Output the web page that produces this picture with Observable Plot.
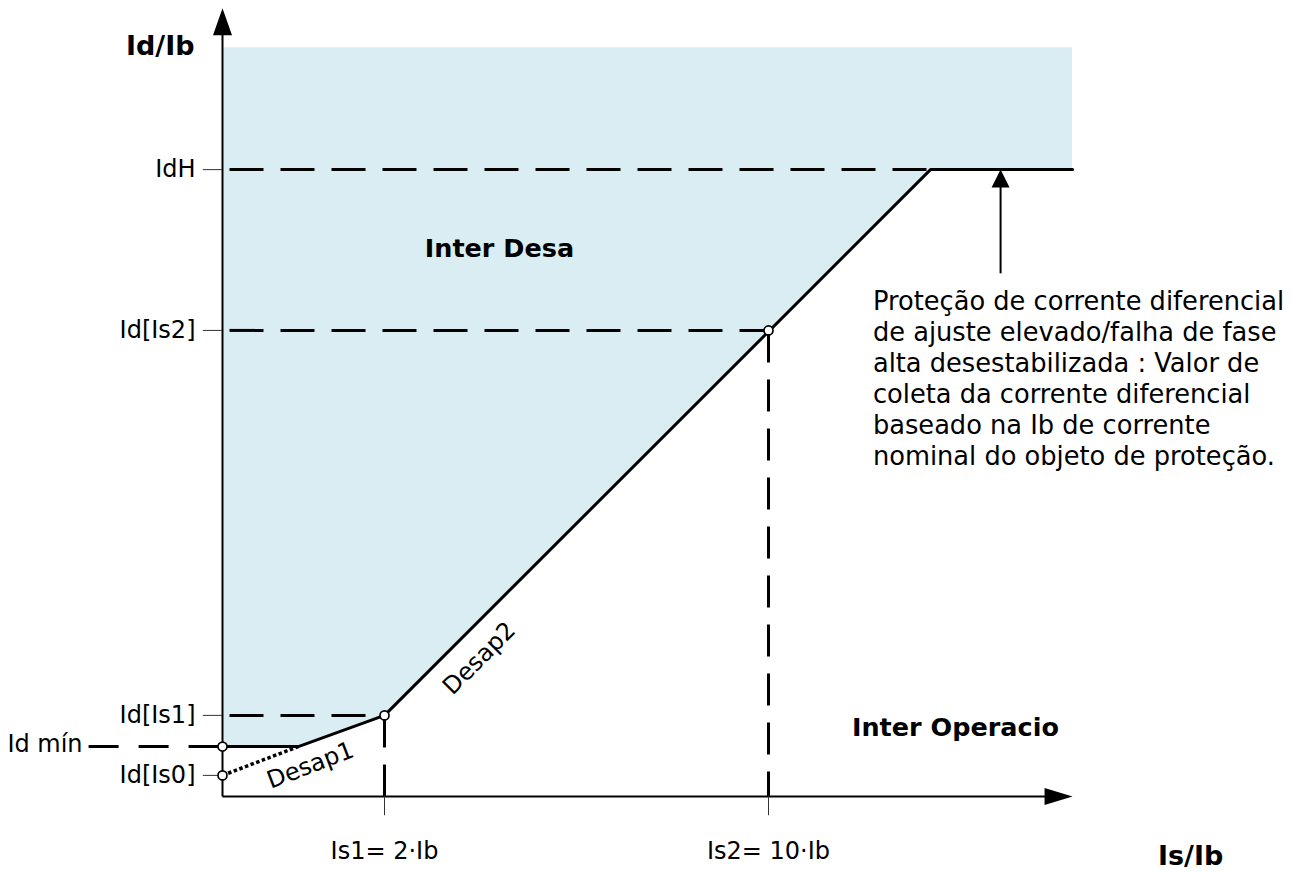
<!DOCTYPE html>
<html>
<head>
<meta charset="utf-8">
<script src="https://cdn.jsdelivr.net/npm/d3@7"></script>
<script src="https://cdn.jsdelivr.net/npm/@observablehq/plot@0.6"></script>
<style>
  html, body { margin: 0; padding: 0; background: #fff; }
</style>
</head>
<body>
<div id="chart"></div>
<script>
// ---- schematic values (units: 1 = one Ib step on the drawing) ----
const levelLabels = ["Id[Is0]", "Id mín", "Id[Is1]", "Id[Is2]", "IdH"];
const levelValues = [0.44, 1.04, 1.69, 9.71, 13.06];
const currentLabels = ["Is1= 2·Ib", "Is2= 10·Ib"];
const currentValues = [3.375, 11.375];
// operating characteristic (Id mín -> Desap1 -> Desap2 -> IdH)
const curveX = [0, 1.58, 3.375, 14.75, 17.71];
const curveY = [1.04, 1.04, 1.69, 13.06, 13.06];
const regionTop = 15.6;
const axisXEnd = 17.71;
const axisYEnd = 16.42;
const idMinStart = -2.79;
const annotationX = 16.21;
const annotationBottom = 10.9;
const annotationText = "Proteção de corrente diferencial\nde ajuste elevado/falha de fase\nalta desestabilizada : Valor de\ncoleta da corrente diferencial\nbaseado na Ib de corrente\nnominal do objeto de proteção.";

// ---- derived tables ----
const lv = Object.fromEntries(levelLabels.map((l, i) => [l, levelValues[i]]));
const curve = curveX.map((x, i) => ({x, y: curveY[i]}));
const yTicks = levelLabels.filter(l => l !== "Id mín").map(l => ({label: l, y: lv[l]}));
const xTicks = currentLabels.map((l, i) => ({label: l, x: currentValues[i]}));
const hGuides = [
  {x1: 0, y1: lv["IdH"], x2: curveX[3], y2: lv["IdH"]},
  {x1: 0, y1: lv["Id[Is2]"], x2: currentValues[1], y2: lv["Id[Is2]"]},
  {x1: 0, y1: lv["Id[Is1]"], x2: currentValues[0], y2: lv["Id[Is1]"]}
];
const vGuides = [
  {x1: currentValues[0], y1: lv["Id[Is1]"], x2: currentValues[0], y2: 0},
  {x1: currentValues[1], y1: lv["Id[Is2]"], x2: currentValues[1], y2: 0}
];
const idMinGuide = [{x1: idMinStart, y1: lv["Id mín"], x2: 0, y2: lv["Id mín"]}];
const desap1 = [{x1: 0, y1: lv["Id[Is0]"], x2: curveX[1], y2: curveY[1]}];
const nodes = [
  {x: 0, y: lv["Id mín"]},
  {x: 0, y: lv["Id[Is0]"]},
  {x: currentValues[0], y: lv["Id[Is1]"]},
  {x: currentValues[1], y: lv["Id[Is2]"]}
];

const head = (len, hw) => ({
  draw(ctx) { ctx.moveTo(0, 0); ctx.lineTo(hw, len); ctx.lineTo(-hw, len); ctx.closePath(); }
});
const font = "DejaVu Sans";

const chart = Plot.plot({
  width: 1296,
  height: 872,
  margin: 0,
  x: {domain: [-4.625, 22.375], axis: null},
  y: {domain: [-1.5833, 16.5833], axis: null},
  style: {fontFamily: font, background: "white"},
  marks: [
    Plot.areaY(curve, {x: "x", y1: "y", y2: regionTop, fill: "#daedf2", curve: "linear"}),
    Plot.link(hGuides, {x1: "x1", y1: "y1", x2: "x2", y2: "y2", stroke: "black", strokeWidth: 3, strokeDasharray: "34,17", strokeDashoffset: 44}),
    Plot.link(vGuides, {x1: "x1", y1: "y1", x2: "x2", y2: "y2", stroke: "black", strokeWidth: 3, strokeDasharray: "32,17"}),
    Plot.link(idMinGuide, {x1: "x1", y1: "y1", x2: "x2", y2: "y2", stroke: "black", strokeWidth: 3, strokeDasharray: "30,20"}),
    Plot.link(desap1, {x1: "x1", y1: "y1", x2: "x2", y2: "y2", stroke: "black", strokeWidth: 3.5, strokeDasharray: "3.5,2.5"}),
    Plot.line(curve, {x: "x", y: "y", stroke: "black", strokeWidth: 3, curve: "linear"}),
    // axes
    Plot.link([{x1: 0, y1: 0, x2: axisXEnd - 0.3, y2: 0}], {x1: "x1", y1: "y1", x2: "x2", y2: "y2", stroke: "black", strokeWidth: 2}),
    Plot.link([{x1: 0, y1: 0, x2: 0, y2: axisYEnd - 0.3}], {x1: "x1", y1: "y1", x2: "x2", y2: "y2", stroke: "black", strokeWidth: 2}),
    Plot.dot([{x: 0, y: axisYEnd}], {x: "x", y: "y", symbol: head(27, 9.5), fill: "black", stroke: "none"}),
    Plot.dot([{x: axisXEnd, y: 0}], {x: "x", y: "y", symbol: head(28, 8.5), fill: "black", stroke: "none", rotate: 90}),
    // ticks
    Plot.ruleY(yTicks, {y: "y", x1: -0.4, x2: 0, stroke: "#333", strokeWidth: 1}),
    Plot.ruleX(xTicks, {x: "x", y1: -0.4, y2: 0, stroke: "#333", strokeWidth: 1}),
    // annotation arrow
    Plot.link([{x1: annotationX, y1: annotationBottom, x2: annotationX, y2: lv["IdH"] - 0.35}], {x1: "x1", y1: "y1", x2: "x2", y2: "y2", stroke: "black", strokeWidth: 2}),
    Plot.dot([{x: annotationX, y: lv["IdH"]}], {x: "x", y: "y", symbol: head(18, 9), fill: "black", stroke: "none"}),
    // nodes
    Plot.dot(nodes, {x: "x", y: "y", r: 4.5, fill: "white", stroke: "black", strokeWidth: 1.7}),
    // labels
    Plot.text(yTicks, {x: 0, y: "y", text: "label", textAnchor: "end", dx: -27, fontSize: 24, fill: "black"}),
    Plot.text([{label: "Id mín", y: lv["Id mín"]}], {x: idMinStart, y: "y", text: "label", textAnchor: "end", dx: -6, dy: -2, fontSize: 24, fill: "black"}),
    Plot.text(xTicks, {x: "x", y: 0, text: "label", dy: 55, fontSize: 24, fill: "black"}),
    Plot.text(["Id/Ib"], {x: 0, y: 15.625, text: d => d, textAnchor: "end", dx: -28, fontSize: 27, fontWeight: "bold", fill: "black"}),
    Plot.text(["Is/Ib"], {x: 20.17, y: -1.25, text: d => d, fontSize: 27, fontWeight: "bold", fill: "black"}),
    Plot.text(["Inter Desa"], {x: 5.77, y: 11.4, text: d => d, fontSize: 25.5, fontWeight: "bold", fill: "black"}),
    Plot.text(["Inter Operacio"], {x: 15.27, y: 1.44, text: d => d, fontSize: 25.5, fontWeight: "bold", fill: "black"}),
    Plot.text(["Desap2"], {x: 5.35, y: 2.875, text: d => d, rotate: -45, fontSize: 24, fill: "black"}),
    Plot.text(["Desap1"], {x: 1.83, y: 0.65, text: d => d, rotate: -21, fontSize: 24, fill: "black"}),
    Plot.text([annotationText], {x: 13.55, y: 8.73, text: d => d, textAnchor: "start", lineHeight: 1.21, fontSize: 25.7, fill: "black"})
  ]
});
document.getElementById("chart").appendChild(chart);
</script>
</body>
</html>
